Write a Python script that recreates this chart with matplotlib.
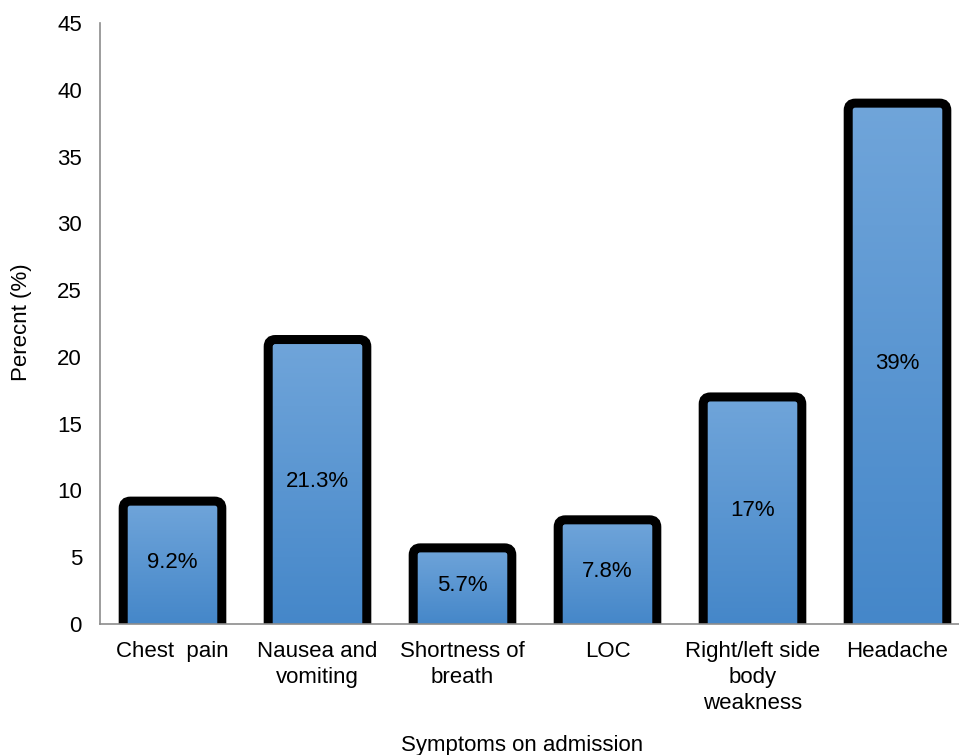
import numpy as np
from matplotlib import pyplot as plt
from matplotlib.patches import FancyBboxPatch
from matplotlib.colors import LinearSegmentedColormap

symptoms = ["Chest  pain", "Nausea and\nvomiting", "Shortness of\nbreath", "LOC",
            "Right/left side\nbody\nweakness", "Headache"]
percent = [9.2, 21.3, 5.7, 7.8, 17.0, 39.0]
bar_labels = ["9.2%", "21.3%", "5.7%", "7.8%", "17%", "39%"]

plt.rcParams['font.family'] = ['Liberation Sans', 'DejaVu Sans']

fig = plt.figure(figsize=(9.59, 7.55), dpi=100)
ax = fig.add_axes([100/959, 1-624/755, 870/959, 601/755])
ax.set_xlim(-0.5, len(symptoms)-0.5)
ax.set_ylim(0, 45)

# px per data unit, used to keep the corner rounding circular
px_x = 870/len(symptoms)
px_y = 601/45
aspect = px_x/px_y

grad = LinearSegmentedColormap.from_list("bar", ["#4587c9", "#70a5da"])
width = 0.68
for i, v in enumerate(percent):
    x0 = i - width/2
    patch = FancyBboxPatch((x0, -2), width, v+2,
                           boxstyle="round,pad=0,rounding_size=0.05",
                           mutation_aspect=aspect,
                           facecolor="none", edgecolor="black", linewidth=6.5, zorder=3)
    ax.add_patch(patch)
    img = ax.imshow(np.linspace(0, 1, 256).reshape(-1, 1), cmap=grad, aspect="auto",
                    extent=[x0, x0+width, 0, v], origin="lower", zorder=2)
    img.set_clip_path(patch)
    ax.text(i, v/2, bar_labels[i], ha="center", va="center", fontsize=16, zorder=4)

ax.set_xticks(range(len(symptoms)))
ax.set_xticklabels(symptoms, fontsize=16, linespacing=1.32)
ax.set_yticks(range(0, 46, 5))
ax.tick_params(axis="y", length=0, pad=13, labelsize=16)
ax.tick_params(axis="x", length=0, pad=12)
for s in ["top", "right"]:
    ax.spines[s].set_visible(False)
for s in ["left", "bottom"]:
    ax.spines[s].set_color("#8c8c8c")
    ax.spines[s].set_linewidth(1.2)
    ax.spines[s].set_zorder(5)

fig.text(22/959, 1-322/755, "Perecnt (%)", rotation=90, ha="center", va="center", fontsize=16)
fig.text(522/959, 1-745/755, "Symptoms on admission", ha="center", va="center", fontsize=16)

fig.savefig("out.png", dpi=100)
